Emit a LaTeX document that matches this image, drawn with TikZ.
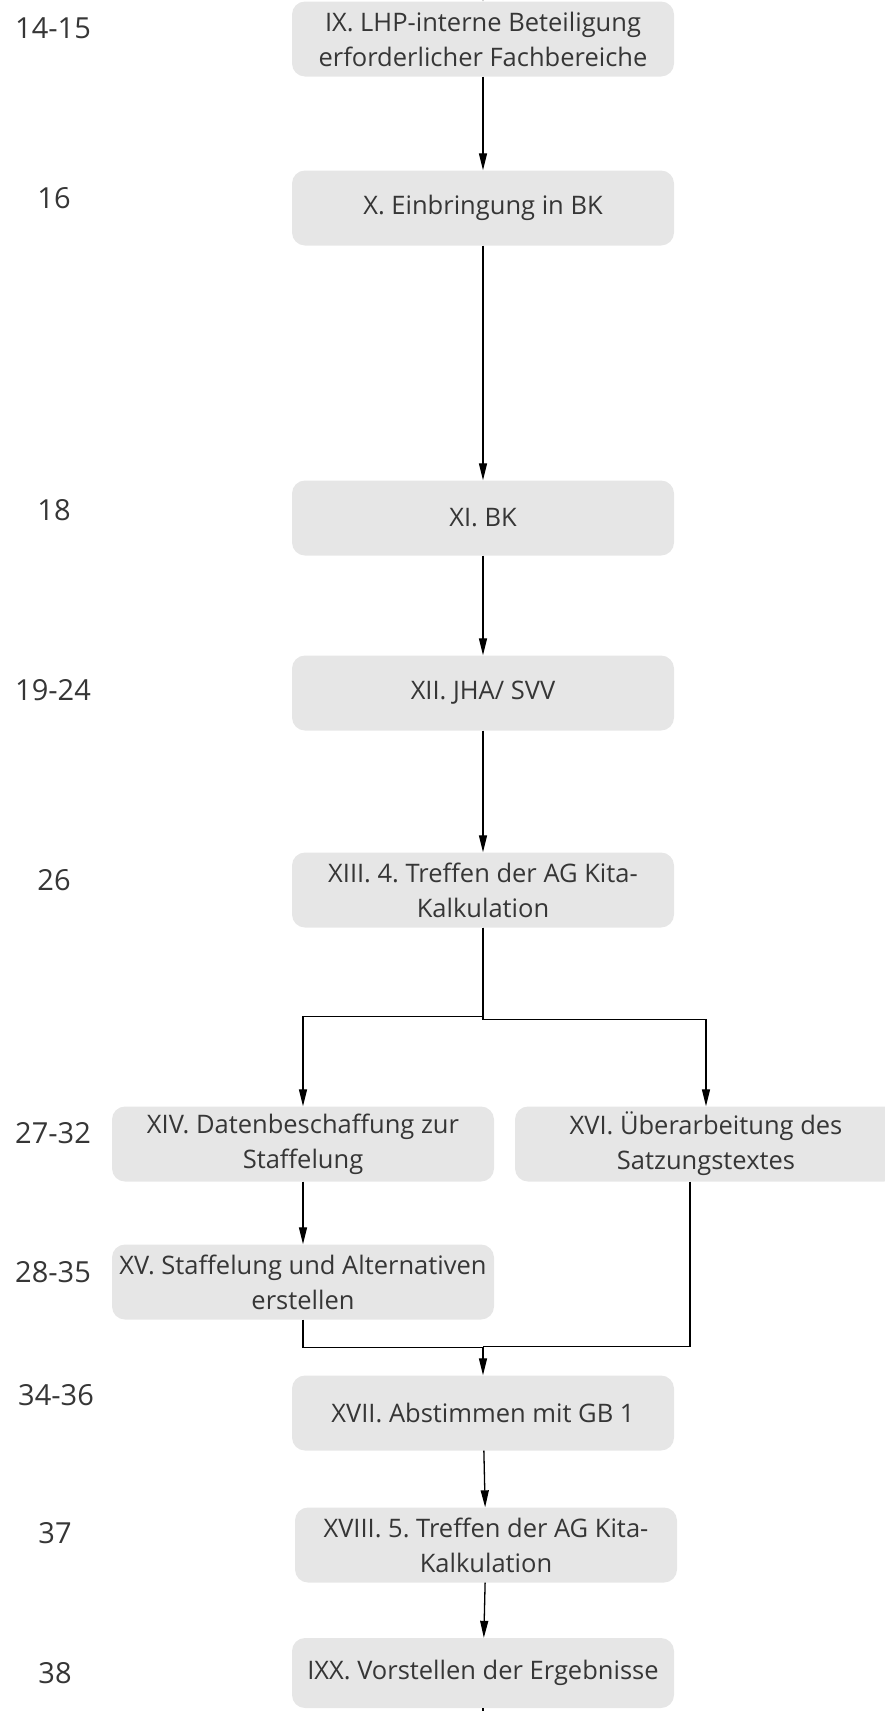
\documentclass[tikz,border=0pt]{standalone}
\usepackage{fontspec}
\setmainfont{Open Sans}
\usetikzlibrary{arrows.meta}
\definecolor{boxgray}{HTML}{E6E6E6}
\definecolor{textgray}{HTML}{363636}
\frenchspacing

\begin{document}
\begin{tikzpicture}[x=1pt,y=-1pt,
        box/.style={fill=boxgray,rounded corners=13pt,minimum width=382pt,minimum height=75pt,
            inner sep=0pt,align=center,text=textgray,font=\fontsize{25.5}{35}\selectfont},
        week/.style={text=textgray,font=\fontsize{29}{34}\selectfont},
        arr/.style={-{Triangle[length=17pt,width=8pt]},line width=1.3pt}]

    \useasboundingbox (0,0) rectangle (884,1711);

    % steps
    \node[box] (s9) at (483,39) {IX. LHP-interne Beteiligung\\erforderlicher Fachbereiche};
    \node[box] (s10) at (483,208) {X. Einbringung in BK};
    \node[box] (s11) at (483,518) {XI. BK};
    \node[box] (s12) at (483,693) {XII. JHA/ SVV};
    \node[box] (s13) at (483,890) {XIII. 4. Treffen der AG Kita-\\Kalkulation};
    \node[box] (s14) at (303,1144) {XIV. Datenbeschaffung zur\\Staffelung};
    \node[box] (s16) at (706,1144) {XVI. Überarbeitung des\\Satzungstextes};
    \node[box] (s15) at (303,1282) {XV. Staffelung und Alternativen\\erstellen};
    \node[box] (s17) at (483,1413) {XVII. Abstimmen mit GB 1};
    \node[box] (s18) at (486,1545) {XVIII. 5. Treffen der AG Kita-\\Kalkulation};
    \node[box,minimum height=70pt] (s19) at (483,1673) {IXX. Vorstellen der Ergebnisse};

    % weeks
    \node[week] (w9) at (53,28) {14-15};
    \node[week] (w10) at (54,198) {16};
    \node[week] (w11) at (54,510) {18};
    \node[week] (w12) at (53,690) {19-24};
    \node[week] (w13) at (54,880) {26};
    \node[week] (w14) at (53,1133) {27-32};
    \node[week] (w15) at (53,1272) {28-35};
    \node[week] (w17) at (56,1395) {34-36};
    \node[week] (w18) at (55,1533) {37};
    \node[week] (w19) at (55,1673) {38};

    % connectors
    \coordinate (in) at (483,-40);
    \coordinate (out) at (483,1760);
    \draw[arr] (in) -- (s9);
    \draw[arr] (s9) -- (s10);
    \draw[arr] (s10) -- (s11);
    \draw[arr] (s11) -- (s12);
    \draw[arr] (s12) -- (s13);
    \draw[arr] (s13.south) -- ++(0,89) -| (s14.north);
    \draw[arr] (s13.south) -- ++(0,92) -| (s16.north);
    \draw[arr] (s14) -- (s15);
    \draw[arr] (s15.south) -- ++(0,28) -| (s17.north);
    \draw[line width=1.3pt] ([xshift=-16pt]s16.south) |- ([yshift=29pt]s17.north);
    \draw[arr] (s17) -- (s18);
    \draw[arr] (s18) -- (s19);
    \draw[line width=1.3pt] (s19) -- (out);
\end{tikzpicture}
\end{document}
